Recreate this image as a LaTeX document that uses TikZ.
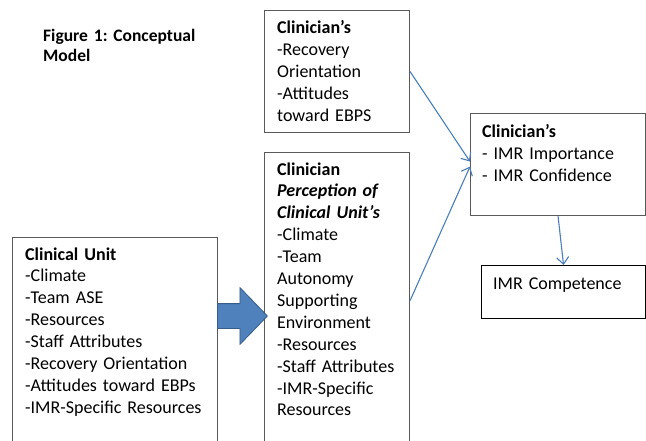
\documentclass[tikz,border=0pt]{standalone}
\usepackage{fontspec}
\setmainfont{Carlito}
\frenchspacing
\usetikzlibrary{arrows.meta, shapes.arrows}
\definecolor{linkblue}{HTML}{4A7EBB}
\definecolor{arrowfill}{HTML}{4F81BD}
\definecolor{arrowedge}{HTML}{385D8A}
\definecolor{boxgray}{HTML}{5A5A5A}

\tikzset{
  box/.style={draw=boxgray, line width=1.1pt, anchor=north west, inner sep=0pt},
  boxtext/.style={anchor=base west, align=left, text width=200pt, inner sep=0pt,
    font=\fontsize{18}{21.9}\selectfont},
}

\begin{document}
\begin{tikzpicture}[x=1pt,y=-1pt,->,>={Straight Barb[length=7pt,width=12pt]}]
\useasboundingbox (0,0) rectangle (646,440);
\clip (0,0) rectangle (646,440);

\node[boxtext, font=\fontsize{17.5}{20}\selectfont\bfseries] (title) at (43,41.5) {Figure 1: Conceptual\\Model};

% boxes
\node[box, minimum width=145pt, minimum height=122pt] (recov) at (264,10) {};
\node[box, minimum width=145pt, minimum height=296pt] (perc) at (264,152) {};
\node[box, minimum width=205pt, minimum height=211pt] (unit) at (12,237) {};
\node[box, minimum width=175pt, minimum height=102pt] (imp) at (470,113) {};
\node[box, draw=black, minimum width=164pt, minimum height=53pt] (comp) at (481,265) {};

% box texts
\node[boxtext] (recovtxt) at (277,33.5) {\textbf{Clinician’s}\\-Recovery\\Orientation\\-Attitudes\\toward EBPS};
\node[boxtext] (perctxt) at (277,175) {\textbf{Clinician}\\\textbf{\textit{Perception of}}\\\textbf{\textit{Clinical Unit’s}}\\-Climate\\-Team\\Autonomy\\Supporting\\Environment\\-Resources\\-Staff Attributes\\-IMR-Specific\\Resources};
\node[boxtext] (unittxt) at (25,260) {\textbf{Clinical Unit}\\-Climate\\-Team ASE\\-Resources\\-Staff Attributes\\-Recovery Orientation\\-Attitudes toward EBPs\\-IMR-Specific Resources};
\node[boxtext] (imptxt) at (482,137.5) {\textbf{Clinician’s}\\- IMR Importance\\- IMR Confidence};
\node[boxtext] (comptxt) at (493,289.3) {IMR Competence};

% big arrow unit -> perception
\node[single arrow, fill=arrowfill, draw=arrowedge, line width=0.8pt, anchor=tail,
  minimum height=50pt, inner xsep=0pt, inner ysep=12pt,
  single arrow head extend=16pt, single arrow tip angle=92] (push) at (217,316) {};

\begin{scope}[linkblue, line width=1.1pt]
\path
  (recov.east) edge ([yshift=3pt]imp.west)
  (perc.east) edge ([yshift=-2pt]imp.west)
  (imp.south) edge (comp.north);
\end{scope}
\end{tikzpicture}
\end{document}
